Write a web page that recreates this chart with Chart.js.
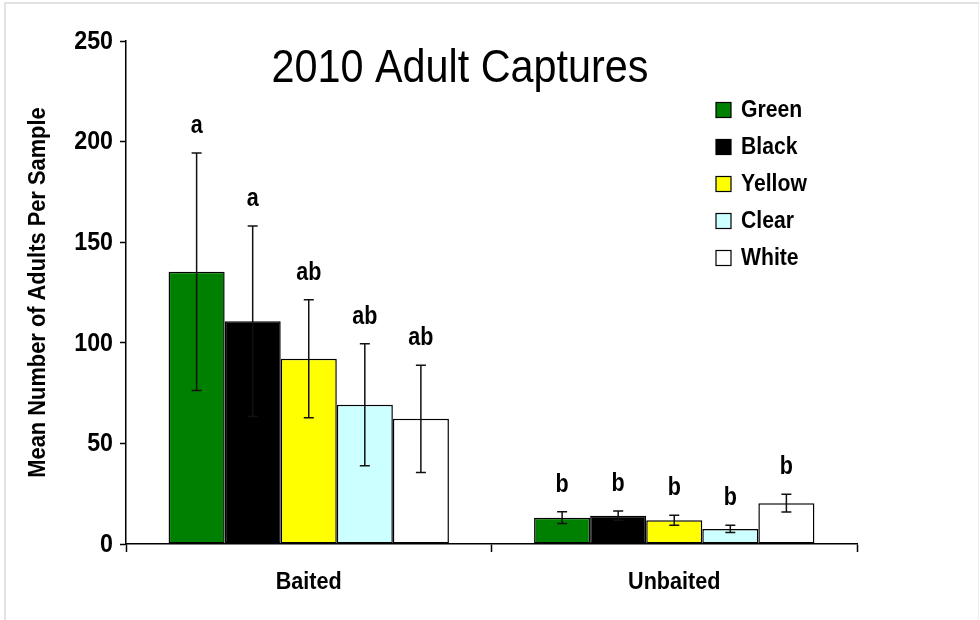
<!DOCTYPE html>
<html>
<head>
<meta charset="utf-8">
<title>2010 Adult Captures</title>
<script src="https://cdn.jsdelivr.net/npm/chart.js@4.4.0/dist/chart.umd.min.js"></script>
<style>
  html, body { margin: 0; padding: 0; background: #fff; }
  #wrap { position: relative; width: 980px; height: 620px; overflow: hidden; }
  #frame { position: absolute; left: 4px; top: 2px; width: 972px; height: 640px;
           border-left: 2px solid #e2e2e2; border-top: 2px solid #e2e2e2; border-right: 1px solid #eee; }
  canvas { position: absolute; left: 0; top: 0; }
</style>
</head>
<body>
<div id="wrap">
  <div id="frame"></div>
  <canvas id="myChart" width="980" height="620"></canvas>
</div>
<script>
// trap colours, one dataset each
var categories = ['Baited', 'Unbaited'];
var seriesNames = ['Green', 'Black', 'Yellow', 'Clear', 'White'];
var seriesColors = ['#008000', '#000000', '#ffff00', '#ccffff', '#ffffff'];

// mean adults per sample
var greenMeans = [135.3, 13.1];
var blackMeans = [110.7, 14.1];
var yellowMeans = [92.1, 11.8];
var clearMeans = [69.2, 7.5];
var whiteMeans = [62.2, 20.3];

// standard error (drawn both ways)
var greenErr = [59.0, 2.9];
var blackErr = [47.3, 2.3];
var yellowErr = [29.3, 2.5];
var clearErr = [30.3, 1.8];
var whiteErr = [26.7, 4.4];

// significance letters
var greenLetters = ['a', 'b'];
var blackLetters = ['a', 'b'];
var yellowLetters = ['ab', 'b'];
var clearLetters = ['ab', 'b'];
var whiteLetters = ['ab', 'b'];

var yTicks = [0, 50, 100, 150, 200, 250];

var chartTitle = '2010 Adult Captures';
var yTitle = 'Mean Number of Adults Per Sample';

var fontFamily = "'Liberation Sans', Arial, sans-serif";

var means = [greenMeans, blackMeans, yellowMeans, clearMeans, whiteMeans];
var errs = [greenErr, blackErr, yellowErr, clearErr, whiteErr];
var letters = [greenLetters, blackLetters, yellowLetters, clearLetters, whiteLetters];

var datasets = [];
for (var i = 0; i < seriesNames.length; i++) {
    datasets.push({
        label: seriesNames[i],
        data: means[i],
        errors: errs[i],
        letters: letters[i],
        backgroundColor: seriesColors[i],
        borderColor: '#000',
        borderWidth: 1.5,
        borderSkipped: false,
        barPercentage: 1,
        categoryPercentage: 0.767
    });
}

// narrow text: squeeze the glyphs horizontally around the anchor point
function narrowText(ctx, text, x, y, font, sx, align, rotate) {
    ctx.save();
    ctx.translate(x, y);
    if (rotate) ctx.rotate(rotate);
    ctx.scale(sx, 1);
    ctx.font = font;
    ctx.textAlign = align;
    ctx.textBaseline = 'middle';
    ctx.fillStyle = '#000';
    ctx.fillText(text, 0, 0);
    ctx.restore();
}

// tick labels, axis title, error bars, letters, title and legend
var extras = {
    id: 'extras',
    afterDatasetsDraw: function(chart) {
        var ctx = chart.ctx;
        var xs = chart.scales.x;
        var y = chart.scales.y;

        // y tick labels
        y.ticks.forEach(function(t) {
            narrowText(ctx, String(t.value), y.right - 13, y.getPixelForValue(t.value) + 1,
                'bold 25px ' + fontFamily, 0.93, 'right');
        });

        // category labels
        chart.data.labels.forEach(function(lbl, j) {
            narrowText(ctx, lbl, xs.getPixelForTick(j), 582,
                'bold 24px ' + fontFamily, 0.9, 'center');
        });

        // y axis title
        narrowText(ctx, yTitle, 39, (y.top + y.bottom) / 2, 'bold 23px ' + fontFamily,
            0.95, 'center', -Math.PI / 2);

        chart.data.datasets.forEach(function(ds, di) {
            var meta = chart.getDatasetMeta(di);
            meta.data.forEach(function(bar, j) {
                var v = ds.data[j], e = ds.errors[j];
                var top = y.getPixelForValue(v + e);
                var bot = y.getPixelForValue(v - e);
                ctx.save();
                ctx.strokeStyle = '#111';
                ctx.lineWidth = 1.5;
                ctx.beginPath();
                ctx.moveTo(bar.x, top); ctx.lineTo(bar.x, bot);
                ctx.moveTo(bar.x - 5, top); ctx.lineTo(bar.x + 5, top);
                ctx.moveTo(bar.x - 5, bot); ctx.lineTo(bar.x + 5, bot);
                ctx.stroke();
                ctx.restore();

                narrowText(ctx, ds.letters[j], bar.x, top - 27, 'bold 25px ' + fontFamily, 0.86, 'center');
            });
        });

        // title sits inside the plot
        narrowText(ctx, chartTitle, 460, 69, '47px ' + fontFamily, 0.88, 'center');

        // legend
        chart.data.datasets.forEach(function(ds, di) {
            var ly = 110 + di * 37;
            ctx.save();
            ctx.fillStyle = ds.backgroundColor;
            ctx.fillRect(716, ly - 7.5, 15, 15);
            ctx.strokeStyle = '#000';
            ctx.lineWidth = 1.2;
            ctx.strokeRect(716, ly - 7.5, 15, 15);
            ctx.restore();
            narrowText(ctx, ds.label, 741, ly + 1, 'bold 23px ' + fontFamily, 0.92, 'left');
        });
    }
};

var ctx = document.getElementById('myChart').getContext('2d');

var myChart = new Chart(ctx, {
    type: 'bar',
    data: {
        labels: categories,
        datasets: datasets
    },
    plugins: [extras],
    options: {
        responsive: false,
        animation: false,
        layout: { padding: { left: 22, top: 41, right: 123, bottom: 0 } },
        plugins: {
            legend: { display: false },
            title: { display: false },
            tooltip: { enabled: false }
        },
        scales: {
            x: {
                offset: true,
                grid: {
                    offset: true,
                    drawOnChartArea: false,
                    drawTicks: true,
                    tickLength: 8,
                    tickColor: '#000',
                    tickWidth: 1.5
                },
                border: { color: '#000', width: 1.5 },
                ticks: { display: false },
                afterFit: function(scale) { scale.height = 76; }
            },
            y: {
                min: 0,
                max: 250,
                afterBuildTicks: function(scale) {
                    scale.ticks = yTicks.map(function(v) { return { value: v }; });
                },
                grid: {
                    drawOnChartArea: false,
                    drawTicks: true,
                    tickLength: 6,
                    tickColor: '#000',
                    tickWidth: 1.5
                },
                border: { color: '#000', width: 1.5 },
                ticks: { display: false },
                afterFit: function(scale) { scale.width = 104; }
            }
        }
    }
});
</script>
</body>
</html>
